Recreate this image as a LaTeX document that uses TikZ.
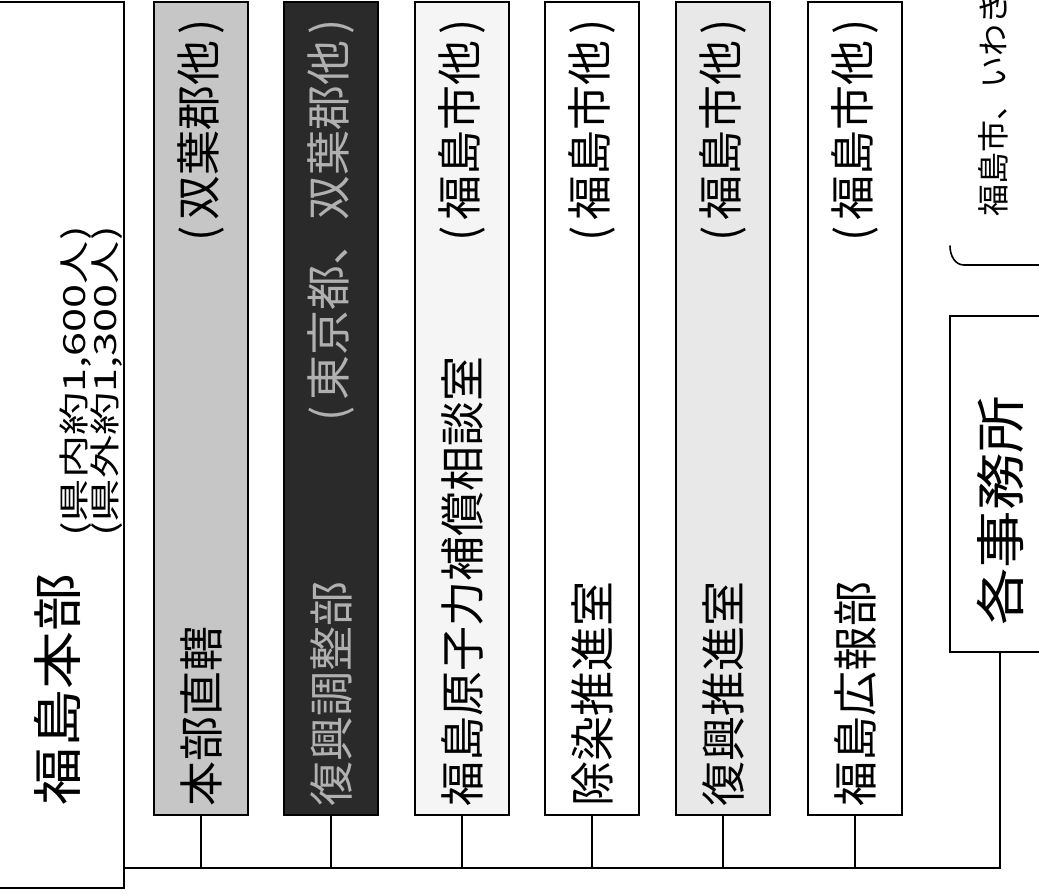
\documentclass[tikz,border=0pt]{standalone}
\usepackage{fontspec}
\usepackage{graphicx}
\usepackage{xcolor}
\newfontfamily\jpfont{Noto Sans CJK JP}
\definecolor{unitgray1}{HTML}{C6C6C6}
\definecolor{unitgray2}{HTML}{2A2A2A}
\definecolor{unitgray3}{HTML}{F5F5F5}
\definecolor{unitgray5}{HTML}{E8E8E8}
\definecolor{darktext}{HTML}{B0B0B0}
\newcommand{\lpar}{\makebox[0.6em]{(}}
\newcommand{\rpar}{\makebox[0.6em]{)}}

\begin{document}
\begin{tikzpicture}[x=1pt, y=-1pt,
    unitbox/.style={draw, line width=2pt, rectangle, minimum width=94pt, minimum height=813pt, inner sep=0pt},
    unittext/.style={rotate=90, inner sep=0pt, font=\jpfont\fontsize{45pt}{45pt}\selectfont},
    smalltext/.style={rotate=90, inner sep=0pt, font=\jpfont\fontsize{30.5pt}{30.5pt}\selectfont},
    link/.style={line width=1.6pt}]
        \useasboundingbox (0, 0) rectangle (1039, 894);

        % Nodes
        \node [unitbox, fill = white, minimum width = 126pt, minimum height = 886pt] (hq) at (61, 445) {};
        \node [unitbox, fill = unitgray1] (b1) at (201, 408.5) {};
        \node [unitbox, fill = unitgray2] (b2) at (331, 408.5) {};
        \node [unitbox, fill = unitgray3] (b3) at (462, 408.5) {};
        \node [unitbox, fill = white] (b4) at (592, 408.5) {};
        \node [unitbox, fill = unitgray5] (b5) at (723, 408.5) {};
        \node [unitbox, fill = white] (b6) at (855, 408.5) {};
        \node [unitbox, fill = white, minimum width = 100pt, minimum height = 336pt] (office) at (1000, 484) {};

        % Headquarters text
        \node [unittext, anchor = west, font = \jpfont\fontsize{50pt}{50pt}\selectfont] (hqname) at (57, 806) {\scalebox{1.16}[1]{福島本部}};
        \node [smalltext, anchor = west] (hqin) at (76, 537) {\scalebox{1.42}[1]{(県内約1,600人)}};
        \node [smalltext, anchor = west] (hqout) at (107, 537) {\scalebox{1.42}[1]{(県外約1,300人)}};

        % Unit text
        \node [unittext, anchor = west] (t1) at ([yshift = 9pt]b1.south) {本部直轄};
        \node [unittext, anchor = east] (p1) at ([yshift = -12pt]b1.north) {\lpar 双葉郡他\rpar};
        \node [unittext, anchor = west, text = darktext] (t2) at ([yshift = 9pt]b2.south) {復興調整部};
        \node [unittext, anchor = east, text = darktext] (p2) at ([yshift = -12pt]b2.north) {\lpar 東京都、双葉郡他\rpar};
        \node [unittext, anchor = west] (t3) at ([yshift = 9pt]b3.south) {福島原子力補償相談室};
        \node [unittext, anchor = east] (p3) at ([yshift = -12pt]b3.north) {\lpar 福島市他\rpar};
        \node [unittext, anchor = west] (t4) at ([yshift = 9pt]b4.south) {除染推進室};
        \node [unittext, anchor = east] (p4) at ([yshift = -12pt]b4.north) {\lpar 福島市他\rpar};
        \node [unittext, anchor = west] (t5) at ([yshift = 9pt]b5.south) {復興推進室};
        \node [unittext, anchor = east] (p5) at ([yshift = -12pt]b5.north) {\lpar 福島市他\rpar};
        \node [unittext, anchor = west] (t6) at ([yshift = 9pt]b6.south) {福島広報部};
        \node [unittext, anchor = east] (p6) at ([yshift = -12pt]b6.north) {\lpar 福島市他\rpar};
        \node [unittext, anchor = west, font = \jpfont\fontsize{50pt}{50pt}\selectfont] (officename) at ([yshift = 27pt]office.south) {\scalebox{1.15}[1]{各事務所}};
        \node [unittext, anchor = west, font = \jpfont\fontsize{32pt}{32pt}\selectfont] (area) at (993, 217) {福島市、いわき};

        % Draw the links
        \coordinate (busL) at (124, 868);
        \draw [link] (busL) -- (office.south |- busL) -- (office.south);
        \foreach \b in {b1, b2, b3, b4, b5, b6}
            \draw [link] (\b.south) -- (\b.south |- busL);

        % Bracket
        \coordinate (brk) at (950, 246);
        \draw [link, line cap = round] (brk) to[out = -90, in = 180] ++(14, 19) -- ++(90, 0);

    \end{tikzpicture}
\end{document}
